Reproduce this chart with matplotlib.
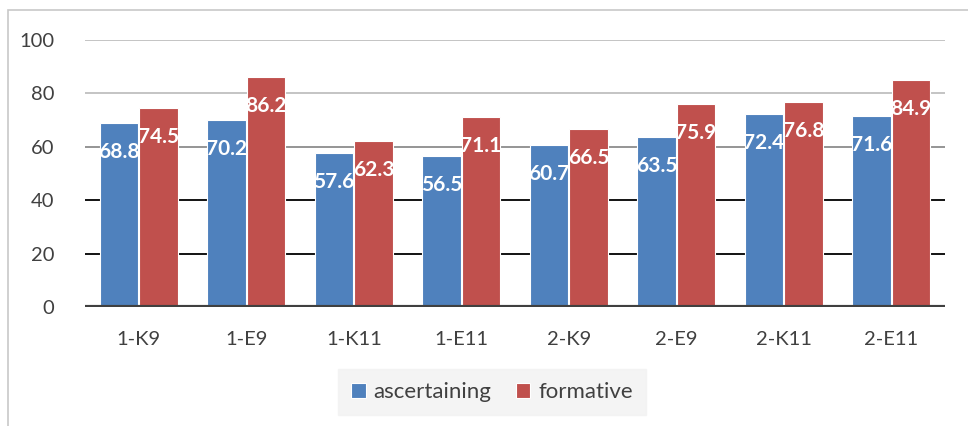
import matplotlib.pyplot as plt
import numpy as np
from matplotlib.patches import Rectangle

categories = ["1-K9", "1-E9", "1-K11", "1-E11", "2-K9", "2-E9", "2-K11", "2-E11"]
ascertaining = [68.8, 70.2, 57.6, 56.5, 60.7, 63.5, 72.4, 71.6]
formative = [74.5, 86.2, 62.3, 71.1, 66.5, 75.9, 76.8, 84.9]
series_names = ["ascertaining", "formative"]
y_ticks = [0, 20, 40, 60, 80, 100]

BLUE = "#4F81BD"
RED = "#C0504D"
TEXT = "#404040"

plt.rcParams["font.family"] = ["Lato", "DejaVu Sans"]

fig = plt.figure(figsize=(9.68, 4.26), dpi=100)
W, H = 968, 426

# outer chart frame
fig.patches.append(Rectangle((8 / W, -0.1), 1.2, 1 - 10 / H + 0.1, transform=fig.transFigure,
                             fill=False, edgecolor="#c8c8c8", linewidth=1.2))

ax = fig.add_axes([85 / W, 1 - 307 / H, 860 / W, 267 / H])
x = np.arange(len(categories))
bw = 0.355
off = 0.184

b1 = ax.bar(x - off, ascertaining, bw, color=BLUE, edgecolor="white", linewidth=0.8,
            label=series_names[0], zorder=3)
b2 = ax.bar(x + off, formative, bw, color=RED, edgecolor="white", linewidth=0.8,
            label=series_names[1], zorder=3)

for bars, vals in ((b1, ascertaining), (b2, formative)):
    for rect, v in zip(bars, vals):
        ax.annotate(f"{v:.1f}", (rect.get_x() + rect.get_width() / 2, v),
                    xytext=(0, -29), textcoords="offset pixels",
                    ha="center", va="center", color="white", fontsize=15,
                    fontweight="bold", zorder=5)

ax.set_xlim(-0.5, len(categories) - 0.5)
ax.set_ylim(0, 100)
ax.set_yticks(y_ticks)
ax.set_xticks(x)
ax.set_xticklabels(categories)

grid_colors = {20: "#000000", 40: "#000000", 60: "#8c8c8c", 80: "#bfbfbf", 100: "#bfbfbf"}
for yv, c in grid_colors.items():
    ax.axhline(yv, color=c, linewidth=1.3, zorder=1)
ax.axhline(0, color="#404040", linewidth=3, zorder=4)

for s in ax.spines.values():
    s.set_visible(False)
ax.tick_params(axis="both", length=0, labelsize=14.5, labelcolor=TEXT)
ax.tick_params(axis="y", pad=22)
ax.tick_params(axis="x", pad=17)

leg = fig.legend(loc="center", bbox_to_anchor=(492 / W, 1 - 392 / H), ncol=2,
                 frameon=True, fontsize=16, handlelength=0.65, handleheight=0.65,
                 handletextpad=0.35, columnspacing=1.1, borderpad=0.6)
leg.get_frame().set_facecolor("#f2f2f2")
leg.get_frame().set_edgecolor("#f2f2f2")
leg.get_frame().set_boxstyle("square", pad=0)
for t in leg.get_texts():
    t.set_color(TEXT)

fig.savefig("out.png", dpi=100)
